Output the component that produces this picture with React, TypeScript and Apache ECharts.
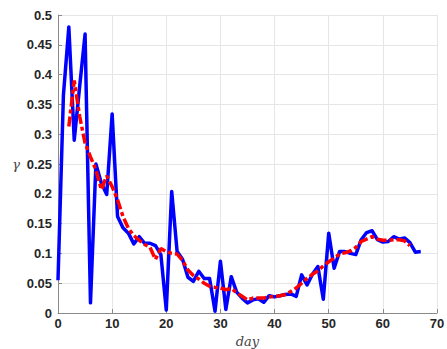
import React, { useEffect, useRef } from "react";
import * as echarts from "echarts";

const blueStartDay = 0;
const blueValues = [
  0.055, 0.365, 0.48, 0.29, 0.38, 0.468, 0.017, 0.25, 0.218, 0.199,
  0.334, 0.162, 0.143, 0.134, 0.116, 0.128, 0.117, 0.117, 0.113, 0.098,
  0.005, 0.204, 0.103, 0.09, 0.06, 0.053, 0.07, 0.058, 0.058, 0.003,
  0.087, 0.006, 0.061, 0.035, 0.025, 0.017, 0.022, 0.024, 0.018, 0.029,
  0.027, 0.029, 0.031, 0.032, 0.028, 0.064, 0.047, 0.065, 0.078, 0.023,
  0.134, 0.075, 0.103, 0.103, 0.1, 0.098, 0.123, 0.135, 0.138, 0.123,
  0.119, 0.12, 0.128, 0.124, 0.126, 0.118, 0.102, 0.103,
];

const redStartDay = 2;
const redValues = [
  0.313, 0.39, 0.33, 0.285, 0.262, 0.24, 0.207, 0.23, 0.212, 0.19,
  0.162, 0.142, 0.13, 0.122, 0.115, 0.11, 0.09, 0.108, 0.103, 0.1,
  0.099, 0.088, 0.072, 0.063, 0.057, 0.05, 0.045, 0.043, 0.042, 0.039,
  0.041, 0.034, 0.028, 0.022, 0.025, 0.025, 0.025, 0.027, 0.028, 0.029,
  0.031, 0.036, 0.042, 0.05, 0.058, 0.065, 0.071, 0.079, 0.086, 0.092,
  0.099, 0.101, 0.104, 0.11, 0.12, 0.124, 0.128, 0.124, 0.122, 0.122,
  0.123, 0.123, 0.121, 0.113,
];

const xTicks = [0, 10, 20, 30, 40, 50, 60, 70];
const yMin = 0;
const yMax = 0.5;
const yInterval = 0.05;

export default function App() {
  const ref = useRef<HTMLDivElement>(null);
  useEffect(() => {
    if (!ref.current) return;
    const chart = echarts.init(ref.current, null, { renderer: "svg" });
    const blue = blueValues.map((v, i) => [blueStartDay + i, v]);
    const red = redValues.map((v, i) => [redStartDay + i, v]);
    const labelStyle = {
      color: "#262626",
      fontSize: 13,
      fontWeight: "bold" as const,
      fontFamily: "Liberation Sans, Arial, sans-serif",
    };
    chart.setOption({
      animation: false,
      backgroundColor: "#ffffff",
      grid: {
        left: 58,
        right: 10,
        top: 15,
        bottom: 36,
        containLabel: false,
        outerBoundsMode: "none",
      },
      xAxis: {
        type: "value",
        min: xTicks[0],
        max: xTicks[xTicks.length - 1],
        interval: 10,
        name: "day",
        nameLocation: "middle",
        nameGap: 20,
        nameTextStyle: {
          fontFamily: "DejaVu Serif, serif",
          fontStyle: "italic",
          fontSize: 13,
          color: "#444",
        },
        axisLine: { show: true, lineStyle: { color: "#8a8a8a", width: 1 } },
        axisTick: { show: true, inside: true, length: 4, lineStyle: { color: "#8a8a8a" } },
        axisLabel: { ...labelStyle, margin: 4 },
        splitLine: { show: true, lineStyle: { color: "#e6e6e6", width: 1 } },
      },
      yAxis: {
        type: "value",
        min: yMin,
        max: yMax,
        interval: yInterval,
        name: "γ",
        nameLocation: "middle",
        nameRotate: 0,
        nameGap: 38,
        nameTextStyle: {
          fontFamily: "DejaVu Serif, serif",
          fontStyle: "italic",
          fontSize: 13,
          color: "#444",
        },
        axisLine: { show: true, lineStyle: { color: "#8a8a8a", width: 1 } },
        axisTick: { show: true, inside: true, length: 4, lineStyle: { color: "#8a8a8a" } },
        axisLabel: {
          ...labelStyle,
          margin: 6,
          formatter: (v: number) => String(+v.toFixed(2)),
        },
        splitLine: { show: true, lineStyle: { color: "#e6e6e6", width: 1 } },
      },
      series: [
        {
          type: "line",
          data: blue,
          showSymbol: false,
          symbol: "none",
          lineStyle: { color: "#0000ff", width: 3.5, join: "round" },
          z: 2,
        },
        {
          type: "line",
          data: red,
          showSymbol: false,
          symbol: "none",
          lineStyle: {
            color: "#ff0000",
            width: 3.5,
            type: [10, 3, 4, 3],
          },
          z: 3,
        },
      ],
    });
    return () => chart.dispose();
  }, []);
  return (
    <div
      ref={ref}
      style={{ position: "fixed", left: 0, top: 0, width: 447, height: 349 }}
    />
  );
}
